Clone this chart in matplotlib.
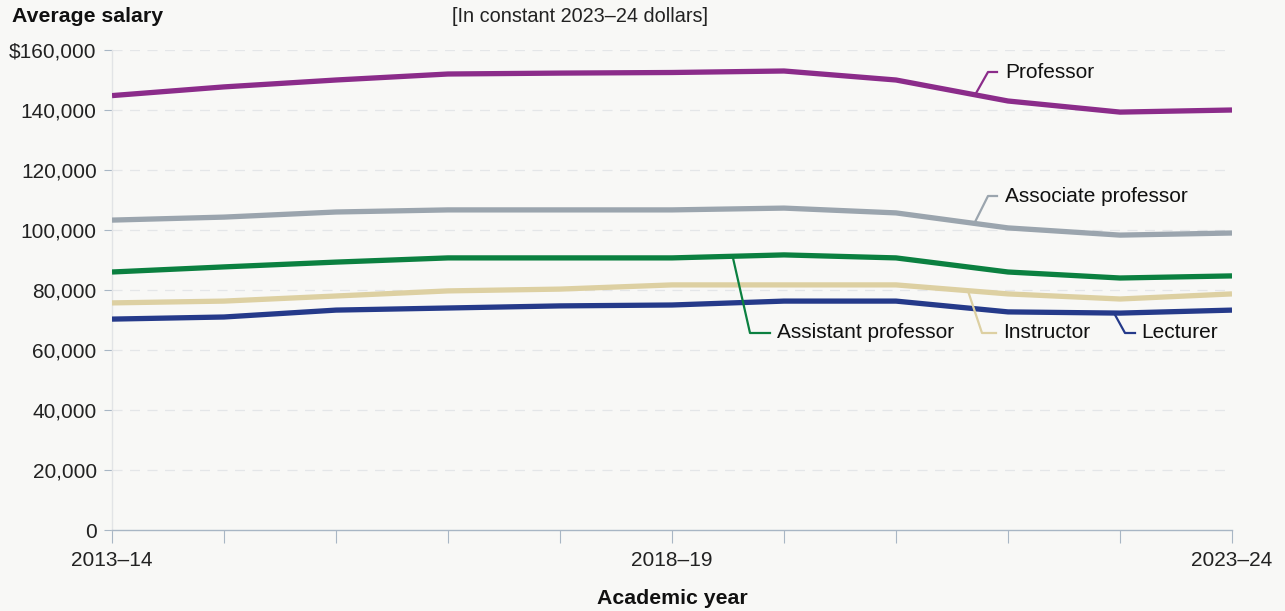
import matplotlib
matplotlib.use("Agg")
import matplotlib.pyplot as plt

plt.rcParams['font.family'] = ['Liberation Sans', 'DejaVu Sans']

years = ["2013–14", "2014–15", "2015–16", "2016–17", "2017–18", "2018–19",
         "2019–20", "2020–21", "2021–22", "2022–23", "2023–24"]
professor = [144800, 147700, 150000, 152000, 152300, 152500, 153000, 150000, 143000, 139300, 140000]
associate = [103300, 104300, 106000, 106700, 106700, 106700, 107300, 105700, 100700, 98300, 99000]
assistant = [86000, 87700, 89300, 90700, 90700, 90700, 91700, 90700, 86000, 84000, 84700]
instructor = [75700, 76300, 78000, 79700, 80300, 81700, 81700, 81700, 78700, 77000, 78700]
lecturer = [70300, 71000, 73300, 74000, 74700, 75000, 76300, 76300, 72700, 72300, 73300]
yticks = [0, 20000, 40000, 60000, 80000, 100000, 120000, 140000, 160000]
ytick_labels = ["0", "20,000", "40,000", "60,000", "80,000", "100,000", "120,000", "140,000", "$160,000"]

bg = "#f8f8f6"
axis_col = "#a8b6c4"
W, H = 1285, 611
fig = plt.figure(figsize=(W / 100, H / 100), dpi=100, facecolor=bg)
ax = fig.add_axes([112 / W, (H - 530) / H, (1232 - 112) / W, (530 - 50) / H], facecolor=bg)

x = list(range(len(years)))
series = [
    (professor, "#8b2c8a"),
    (associate, "#9ba5ae"),
    (assistant, "#0b8040"),
    (instructor, "#ddd0a2"),
    (lecturer, "#253a8a"),
]
for vals, col in series:
    ax.plot(x, vals, color=col, lw=3.8, solid_joinstyle='round', solid_capstyle='butt', zorder=3)

ax.set_xlim(0, len(years) - 1)
ax.set_ylim(0, 160000)
for v in yticks[1:]:
    ax.axhline(v, color="#e4e6e8", lw=0.9, ls=(0, (8, 6)), zorder=1)

ax.set_yticks(yticks)
ax.set_yticklabels(ytick_labels, fontsize=15, color="#222222")
ax.set_xticks(x)
ax.set_xticklabels([y if i in (0, 5, 10) else "" for i, y in enumerate(years)],
                   fontsize=15, color="#222222")
ax.tick_params(axis='y', length=6, width=0.8, color=axis_col, pad=5)
ax.tick_params(axis='x', length=9, width=0.8, color=axis_col, pad=6)
for s in ("top", "right"):
    ax.spines[s].set_visible(False)
ax.spines['bottom'].set_color(axis_col)
ax.spines['bottom'].set_linewidth(1.0)
ax.spines['left'].set_color("#e2e4e6")
ax.spines['left'].set_linewidth(1.0)

fig.text(12 / W, 1 - 17 / H, "Average salary", fontsize=15.3, fontweight='bold',
         ha='left', va='center', color="#111111")
fig.text(580 / W, 1 - 17 / H, "[In constant 2023–24 dollars]", fontsize=14.3,
         ha='center', va='center', color="#222222")
fig.text(672 / W, 1 - 598 / H, "Academic year", fontsize=15.3, fontweight='bold',
         ha='center', va='center', color="#111111")

# Series labels with leader lines (data coords for anchors, pixel offsets for text)
def px(xp, yp):
    return ((xp - 112) / 112.0, (530 - yp) / 3 * 1000)

labels = [
    ("Professor", "#8b2c8a", [(975, 95), (988, 72), (997, 72)], (1005, 72)),
    ("Associate professor", "#9ba5ae", [(975, 222), (988, 196), (997, 196)], (1005, 196)),
    ("Assistant professor", "#0b8040", [(733, 258), (750, 333), (770, 333)], (777, 333)),
    ("Instructor", "#ddd0a2", [(968, 291), (982, 333), (996, 333)], (1003, 333)),
    ("Lecturer", "#253a8a", [(1114, 313), (1125, 333), (1135, 333)], (1141, 333)),
]
for name, col, pts, tpos in labels:
    dpts = [px(*p) for p in pts]
    ax.plot([p[0] for p in dpts], [p[1] for p in dpts], color=col, lw=1.6, zorder=4, clip_on=False)
    tx, ty = px(*tpos)
    ax.text(tx, ty, name, fontsize=15, ha='left', va='center', color="#111111", zorder=5)

fig.savefig("out.png", dpi=100, facecolor=bg)
